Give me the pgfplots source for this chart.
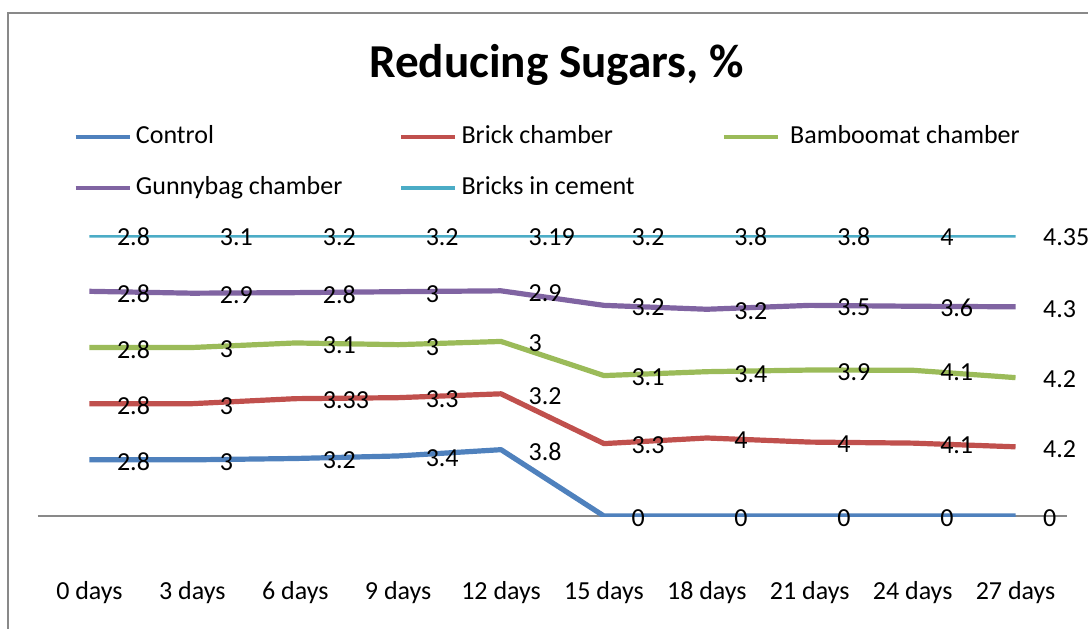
\documentclass[border=0pt]{standalone}
\usepackage{pgfplots}
\pgfplotsset{compat=1.18}
\usepackage{pgfplotstable}
\usepackage{fontspec}
\setmainfont{Carlito}

\definecolor{cControl}{HTML}{4F81BD}
\definecolor{cBrick}{HTML}{C0504D}
\definecolor{cBamboo}{HTML}{9BBB59}
\definecolor{cGunny}{HTML}{8064A2}
\definecolor{cCement}{HTML}{4BACC6}
\definecolor{frame}{HTML}{898989}

% raw values; the chart is a 100% stacked line chart
\pgfplotstableread{
x c    b    g   p   k
0 2.8  2.8  2.8 2.8 2.8
1 3    3    3   2.9 3.1
2 3.2  3.33 3.1 2.8 3.2
3 3.4  3.3  3   3   3.2
4 3.8  3.2  3   2.9 3.19
5 0    3.3  3.1 3.2 3.2
6 0    4    3.4 3.2 3.8
7 0    4    3.9 3.5 3.8
8 0    4.1  4.1 3.6 4
9 0    4.2  4.2 4.3 4.35
}\sugars

\newcommand\total{(\thisrow{c}+\thisrow{b}+\thisrow{g}+\thisrow{p}+\thisrow{k})}

\begin{document}
\begin{tikzpicture}[x=1pt,y=1pt]
\useasboundingbox (0,0) rectangle (544,314);
\draw[frame, line width=1pt] (4,-20) rectangle (600,307.5);
\node[anchor=base, font=\bfseries\fontsize{23.6}{28}\selectfont] at (278.25,275) {Reducing Sugars, \%};
\begin{axis}[
    at={(19pt,56pt)}, anchor=south west,
    width=514.5pt, height=140.5pt, scale only axis,
    xmin=-0.5, xmax=9.5, ymin=0, ymax=100.05,
    stack plots=y,
    hide y axis,
    axis x line*=bottom,
    x axis line style={-, draw=frame, line width=0.8pt},
    xtick={0,...,9},
    xticklabels={0 days,3 days,6 days,9 days,12 days,15 days,18 days,21 days,24 days,27 days},
    major tick length=0pt,
    xticklabel style={anchor=center, yshift=-38.5pt, font=\fontsize{13}{15}\selectfont},
    every axis plot/.append style={line width=2.6pt, line join=round},
    point meta=explicit,
    nodes near coords={\pgfmathprintnumber{\pgfplotspointmeta}},
    every node near coord/.style={anchor=west, inner sep=0pt, xshift=12.5pt, yshift=-1pt,
        font=\fontsize{13}{15}\selectfont, text=black},
    /pgf/number format/assume math mode=true,
    legend columns=3,
    legend cell align=left,
    legend style={at={(0.034,1.395)}, anchor=north west, draw=none, fill=none,
        inner sep=0pt, row sep=13pt, font=\fontsize{13}{15}\selectfont,
        nodes={inner xsep=2pt, inner ysep=0pt, text height=9.5pt, text depth=3pt},
        /tikz/every even column/.style={column sep=0pt}},
    legend image code/.code={\draw[line width=2.3pt] (0pt,0pt) -- (27pt,0pt);},
]
\addplot[cControl] table[x=x, y expr=100*\thisrow{c}/\total, meta=c] {\sugars};
\addlegendentry{\makebox[129.5pt][l]{Control}}
\addplot[cBrick] table[x=x, y expr=100*\thisrow{b}/\total, meta=b] {\sugars};
\addlegendentry{\makebox[128pt][l]{Brick chamber}}
\addplot[cBamboo] table[x=x, y expr=100*\thisrow{g}/\total, meta=g] {\sugars};
\addlegendentry{\hspace{3pt}Bamboomat chamber}
\addplot[cGunny] table[x=x, y expr=100*\thisrow{p}/\total, meta=p] {\sugars};
\addlegendentry{\makebox[129.5pt][l]{Gunnybag chamber}}
\addplot[cCement] table[x=x, y expr=100*\thisrow{k}/\total, meta=k] {\sugars};
\addlegendentry{\makebox[128pt][l]{Bricks in cement}}
\end{axis}
\end{tikzpicture}
\end{document}
